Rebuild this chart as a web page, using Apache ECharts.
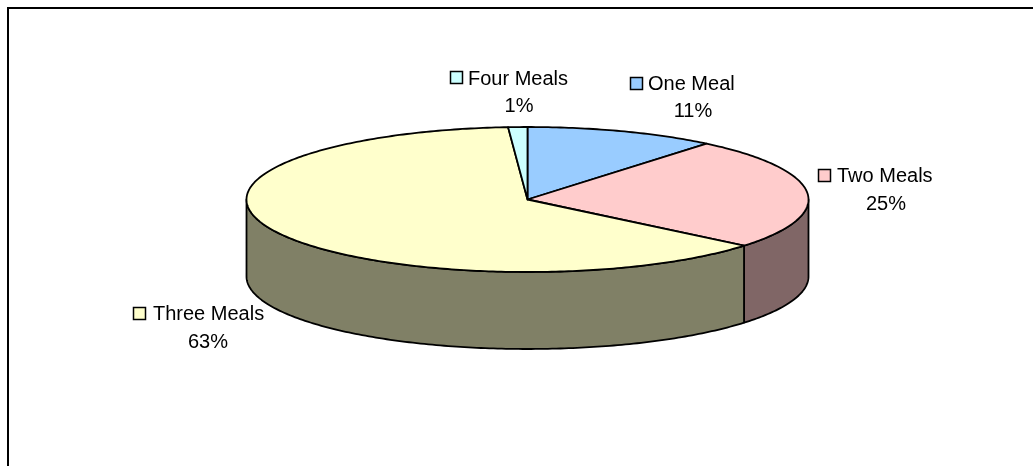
<!DOCTYPE html>
<html><head><meta charset="utf-8">
<style>html,body{margin:0;padding:0;background:#fff}#c{width:1033px;height:466px}</style>
<script src="https://cdn.jsdelivr.net/npm/echarts@6/dist/echarts.min.js"></script>
</head><body><div id="c"></div>
<script>
const categories = ['One Meal', 'Two Meals', 'Three Meals', 'Four Meals'];
const shares = [11, 25, 62.9, 1.1];
const topColors = ['#99CCFF', '#FFCCCC', '#FFFFCC', '#CCFFFF'];
const wallColors = ['#4D6680', '#806666', '#808066', '#668080'];
const labelAnchors = [
  {keyX: 630, keyY: 77, textX: 648, textY: 84, pctX: 693, pctY: 111},
  {keyX: 818, keyY: 169, textX: 837, textY: 176, pctX: 886, pctY: 204},
  {keyX: 133, keyY: 307, textX: 153, textY: 314, pctX: 208, pctY: 342},
  {keyX: 450, keyY: 71, textX: 468, textY: 79, pctX: 519, pctY: 106}
];
const DEPTH = 77, FONT = 20, KEY = 12;
const total = shares.reduce((a, b) => a + b, 0);
const starts = shares.map((_, i) => shares.slice(0, i).reduce((a, b) => a + b, 0));

function arc(api, a0, a1, dy) {
  const n = Math.max(2, Math.ceil((a1 - a0) / 0.015)), pts = [];
  for (let k = 0; k <= n; k++) {
    const t = a0 + (a1 - a0) * k / n;
    const p = api.coord([Math.sin(t), Math.cos(t)]);
    pts.push([p[0], p[1] + dy]);
  }
  return pts;
}
const line = {stroke: '#000', lineWidth: 1.8, lineJoin: 'round'};
function renderItem(params, api) {
  const i = params.dataIndex;
  const a0 = api.value(1) / total * 2 * Math.PI;
  const a1 = a0 + api.value(0) / total * 2 * Math.PI;
  const children = [];
  const fa0 = Math.max(a0, Math.PI / 2), fa1 = Math.min(a1, 3 * Math.PI / 2);
  if (fa1 > fa0) {
    const up = arc(api, fa0, fa1, 0), low = arc(api, fa0, fa1, DEPTH).reverse();
    children.push({type: 'polygon', shape: {points: up.concat(low)},
      style: Object.assign({fill: wallColors[i]}, line)});
  }
  const c = api.coord([0, 0]);
  children.push({type: 'polygon', shape: {points: [c].concat(arc(api, a0, a1, 0))},
    style: Object.assign({fill: topColors[i]}, line)});
  return {type: 'group', children};
}
function renderLabel(params, api) {
  const i = params.dataIndex, a = labelAnchors[i];
  const font = FONT + 'px "Liberation Sans", Arial, sans-serif';
  return {type: 'group', children: [
    {type: 'rect', shape: {x: a.keyX + .5, y: a.keyY + .5, width: KEY, height: KEY},
      style: {fill: topColors[i], stroke: '#000', lineWidth: 1.5}},
    {type: 'text', x: a.textX, y: a.textY,
      style: {text: categories[i], font, fill: '#000', align: 'left', verticalAlign: 'middle'}},
    {type: 'text', x: a.pctX, y: a.pctY,
      style: {text: Math.round(api.value(0)) + '%', font, fill: '#000', align: 'center', verticalAlign: 'middle'}}
  ]};
}
const rows = shares.map((v, i) => [v, starts[i]]);
const chart = echarts.init(document.getElementById('c'), null, {renderer: 'canvas'});
chart.setOption({
  animation: false,
  backgroundColor: '#fff',
  grid: {left: 246.5, top: 127, width: 562, height: 145},
  xAxis: {type: 'value', min: -1, max: 1, show: false},
  yAxis: {type: 'value', min: -1, max: 1, show: false},
  graphic: [{type: 'rect', silent: true, shape: {x: 8, y: 8, width: 1040, height: 480},
    style: {fill: 'none', stroke: '#000', lineWidth: 2}}],
  series: [
    {type: 'custom', data: rows, renderItem, clip: false, silent: true},
    {type: 'custom', data: rows, renderItem: renderLabel, clip: false, silent: true}
  ]
});
</script></body></html>
